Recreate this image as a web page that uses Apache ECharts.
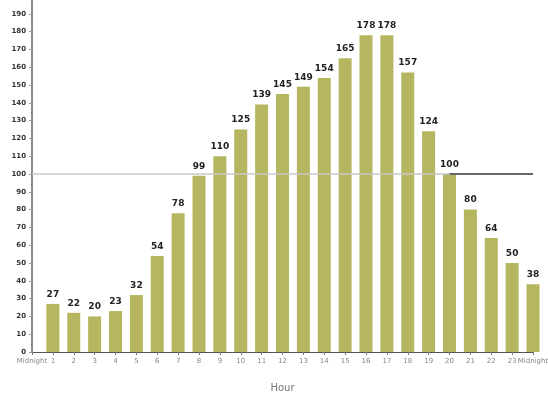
<!DOCTYPE html>
<html>
<head>
<meta charset="utf-8">
<script src="https://cdn.jsdelivr.net/npm/echarts@6/dist/echarts.min.js"></script>
<style>
  html, body { margin: 0; padding: 0; background: #fff; }
  #chart { width: 548px; height: 397px; }
</style>
</head>
<body>
<div id="chart"></div>
<script>
/* hourly counts, midnight to midnight */

var hours = ['Midnight', '1', '2', '3', '4', '5', '6', '7', '8', '9', '10', '11',
    '12', '13', '14', '15', '16', '17', '18', '19', '20', '21', '22', '23', 'Midnight'];
var counts = [null, 27, 22, 20, 23, 32, 54, 78, 99, 110, 125, 139, 145,
    149, 154, 165, 178, 178, 157, 124, 100, 80, 64, 50, 38];
var refLevel = 100;

function renderHours(container) {
    let xAxis = {
        type: 'category',
        data: hours,
        boundaryGap: false,
        name: 'Hour',
        nameLocation: 'middle',
        nameGap: 31,
        nameTextStyle: { color: '#777', fontSize: 10, fontFamily: 'DejaVu Sans' },
        axisLine: { lineStyle: { color: '#555', width: 1 } },
        axisTick: { show: true, length: 3, lineStyle: { color: '#777' } },
        axisLabel: {
            interval: 0,
            color: '#888',
            fontSize: 7,
            margin: 6,
            fontFamily: 'DejaVu Sans'
        }
    };
    let yAxis = {
        type: 'value',
        min: 0,
        max: 200,
        interval: 10,
        splitLine: { show: false },
        axisLine: { show: true, lineStyle: { color: '#666', width: 1.5 } },
        axisTick: { show: true, length: 3, lineStyle: { color: '#999' } },
        axisLabel: {
            color: '#333',
            fontSize: 7,
            fontWeight: 'bold',
            margin: 6,
            fontFamily: 'DejaVu Sans'
        }
    };
    let series = [{
        type: 'bar',
        data: counts,
        barWidth: 13,
        clip: false,
        itemStyle: { color: '#b6b661' },
        label: {
            show: true,
            position: 'top',
            distance: 5,
            color: '#222',
            fontSize: 9,
            fontWeight: 'bold',
            fontFamily: 'DejaVu Sans'
        },
        markLine: {
            silent: true,
            symbol: 'none',
            label: { show: false },
            data: [
                [{ coord: [0, refLevel] }, { coord: [20, refLevel] }],
                [{ coord: [20, refLevel], lineStyle: { color: '#666', width: 2 } },
                 { coord: [24, refLevel] }]
            ],
            lineStyle: { color: '#c8c8c8', width: 1.5, type: 'solid' }
        }
    }];
    let option = {
        animation: false,
        backgroundColor: '#fff',
        grid: { left: 32, right: 15, top: -4, bottom: 45, outerBoundsMode: 'none' },
        xAxis: xAxis,
        yAxis: yAxis,
        series: series
    };
    let chart = echarts.init(container);
    chart.setOption(option);
}

renderHours(document.getElementById('chart'));
</script>
</body>
</html>
